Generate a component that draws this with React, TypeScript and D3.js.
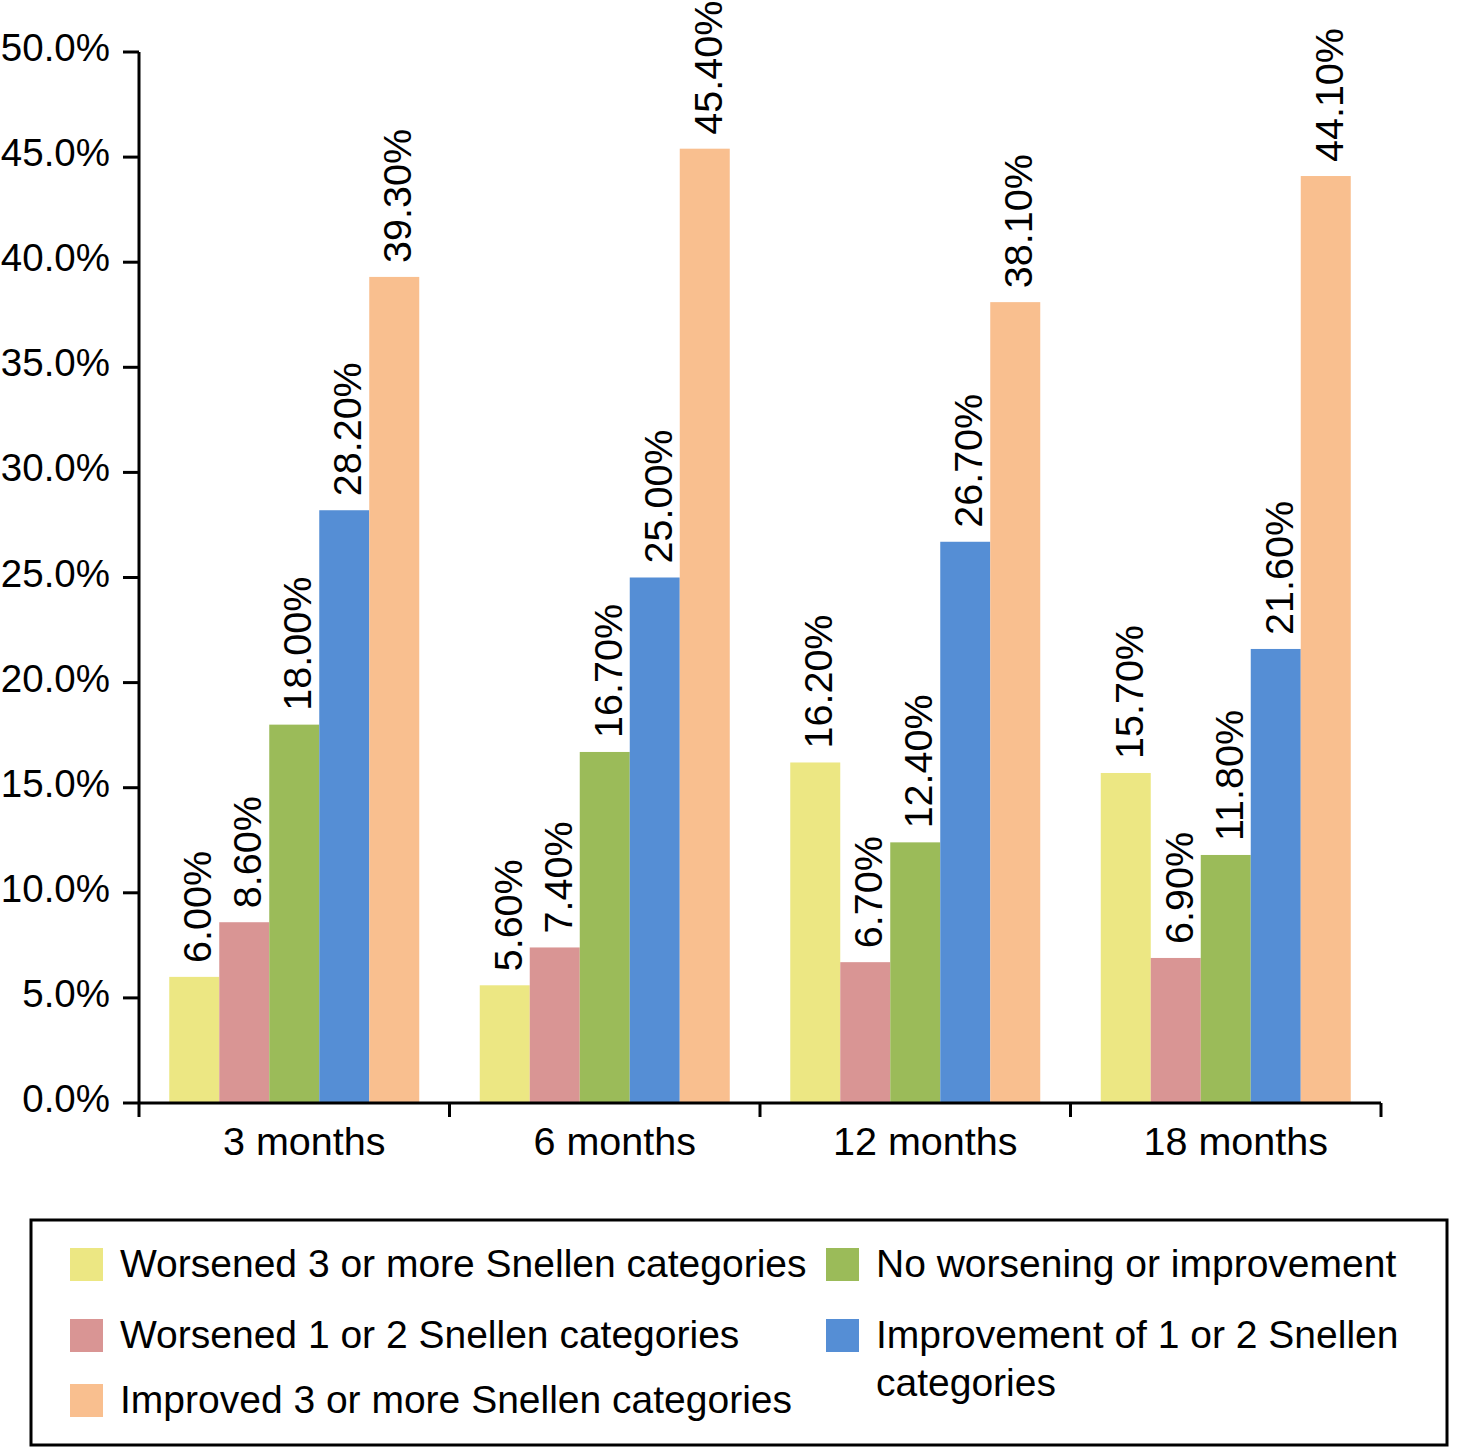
import React from 'react';
import * as d3 from 'd3';

// data
const periods = ['3 months', '6 months', '12 months', '18 months'];
const seriesNames = [
  'Worsened 3 or more Snellen categories',
  'Worsened 1 or 2 Snellen categories',
  'No worsening or improvement',
  'Improvement of 1 or 2 Snellen categories',
  'Improved 3 or more Snellen categories',
];
const worsened3 = [6.0, 5.6, 16.2, 15.7];
const worsened12 = [8.6, 7.4, 6.7, 6.9];
const noChange = [18.0, 16.7, 12.4, 11.8];
const improved12 = [28.2, 25.0, 26.7, 21.6];
const improved3 = [39.3, 45.4, 38.1, 44.1];
const yTicks = [0, 5, 10, 15, 20, 25, 30, 35, 40, 45, 50];

const colors = ['#ECE783', '#D99594', '#9BBB59', '#558ED5', '#F9BF8F'];
const seriesValues = [worsened3, worsened12, noChange, improved12, improved3];

const App: React.FC = () => {
  const width = 1464;
  const height = 1448;
  const font = '"Liberation Sans", Arial, sans-serif';

  const y = d3.scaleLinear().domain([0, 50]).range([1103, 52]);
  const x0 = d3.scaleBand<string>().domain(periods).range([139, 1381]);
  const x1 = d3
    .scaleBand<number>()
    .domain(d3.range(seriesNames.length))
    .range([0, x0.bandwidth()])
    .paddingOuter(0.605);

  // legend layout: two columns, second entry of right column wraps
  const legendLeft = [0, 1, 4];
  const legendRight = [2, 3];
  const rowY = [1248, 1319, 1384];

  return (
    <svg
      width={width}
      height={height}
      style={{ position: 'absolute', left: 0, top: 0 }}
      fontFamily={font}
    >
      <rect width={width} height={height} fill="#fff" />

      {/* bars */}
      {periods.map((p, gi) => (
        <g key={p} transform={`translate(${x0(p)},0)`}>
          {seriesValues.map((vals, si) => (
            <rect
              key={si}
              x={x1(si)}
              y={y(vals[gi])}
              width={x1.bandwidth()}
              height={y(0) - y(vals[gi])}
              fill={colors[si]}
            />
          ))}
          {seriesValues.map((vals, si) => {
            const cx = (x1(si) as number) + x1.bandwidth() / 2 + 17;
            const cy = y(vals[gi]) - 14;
            return (
              <text
                key={'l' + si}
                transform={`translate(${cx},${cy}) rotate(-90)`}
                fontSize={39.5}
                fill="#000"
              >
                {vals[gi].toFixed(2) + '%'}
              </text>
            );
          })}
        </g>
      ))}

      {/* y axis */}
      <line x1={139} x2={139} y1={y(50)} y2={y(0) + 14} stroke="#000" strokeWidth={3} />
      {yTicks.map((t) => (
        <g key={t}>
          <line x1={123} x2={139} y1={y(t)} y2={y(t)} stroke="#000" strokeWidth={3} />
          <text x={110} y={y(t) + 9} textAnchor="end" fontSize={38.5} fill="#000">
            {t.toFixed(1) + '%'}
          </text>
        </g>
      ))}

      {/* x axis */}
      <line x1={139} x2={1381} y1={y(0)} y2={y(0)} stroke="#000" strokeWidth={3} />
      {periods.map((p) => (
        <g key={p}>
          <line
            x1={(x0(p) as number) + x0.bandwidth()}
            x2={(x0(p) as number) + x0.bandwidth()}
            y1={y(0)}
            y2={y(0) + 14}
            stroke="#000"
            strokeWidth={3}
          />
          <text
            x={(x0(p) as number) + x0.bandwidth() / 2 + 10}
            y={1155}
            textAnchor="middle"
            fontSize={39.5}
            fill="#000"
          >
            {p}
          </text>
        </g>
      ))}

      {/* legend */}
      <rect x={31} y={1220} width={1416} height={225} fill="none" stroke="#000" strokeWidth={3} />
      {legendLeft.map((si, i) => (
        <g key={si}>
          <rect x={70} y={rowY[i]} width={33} height={33} fill={colors[si]} />
          <text x={120} y={rowY[i] + 29} fontSize={39} fill="#000">
            {seriesNames[si]}
          </text>
        </g>
      ))}
      {legendRight.map((si, i) => (
        <g key={si}>
          <rect x={826} y={rowY[i]} width={33} height={33} fill={colors[si]} />
          {si === 3 ? (
            <text x={876} y={rowY[i] + 29} fontSize={39} fill="#000">
              <tspan x={876}>Improvement of 1 or 2 Snellen</tspan>
              <tspan x={876} dy={48}>categories</tspan>
            </text>
          ) : (
            <text x={876} y={rowY[i] + 29} fontSize={39} fill="#000">
              {seriesNames[si]}
            </text>
          )}
        </g>
      ))}
    </svg>
  );
};

export default App;
